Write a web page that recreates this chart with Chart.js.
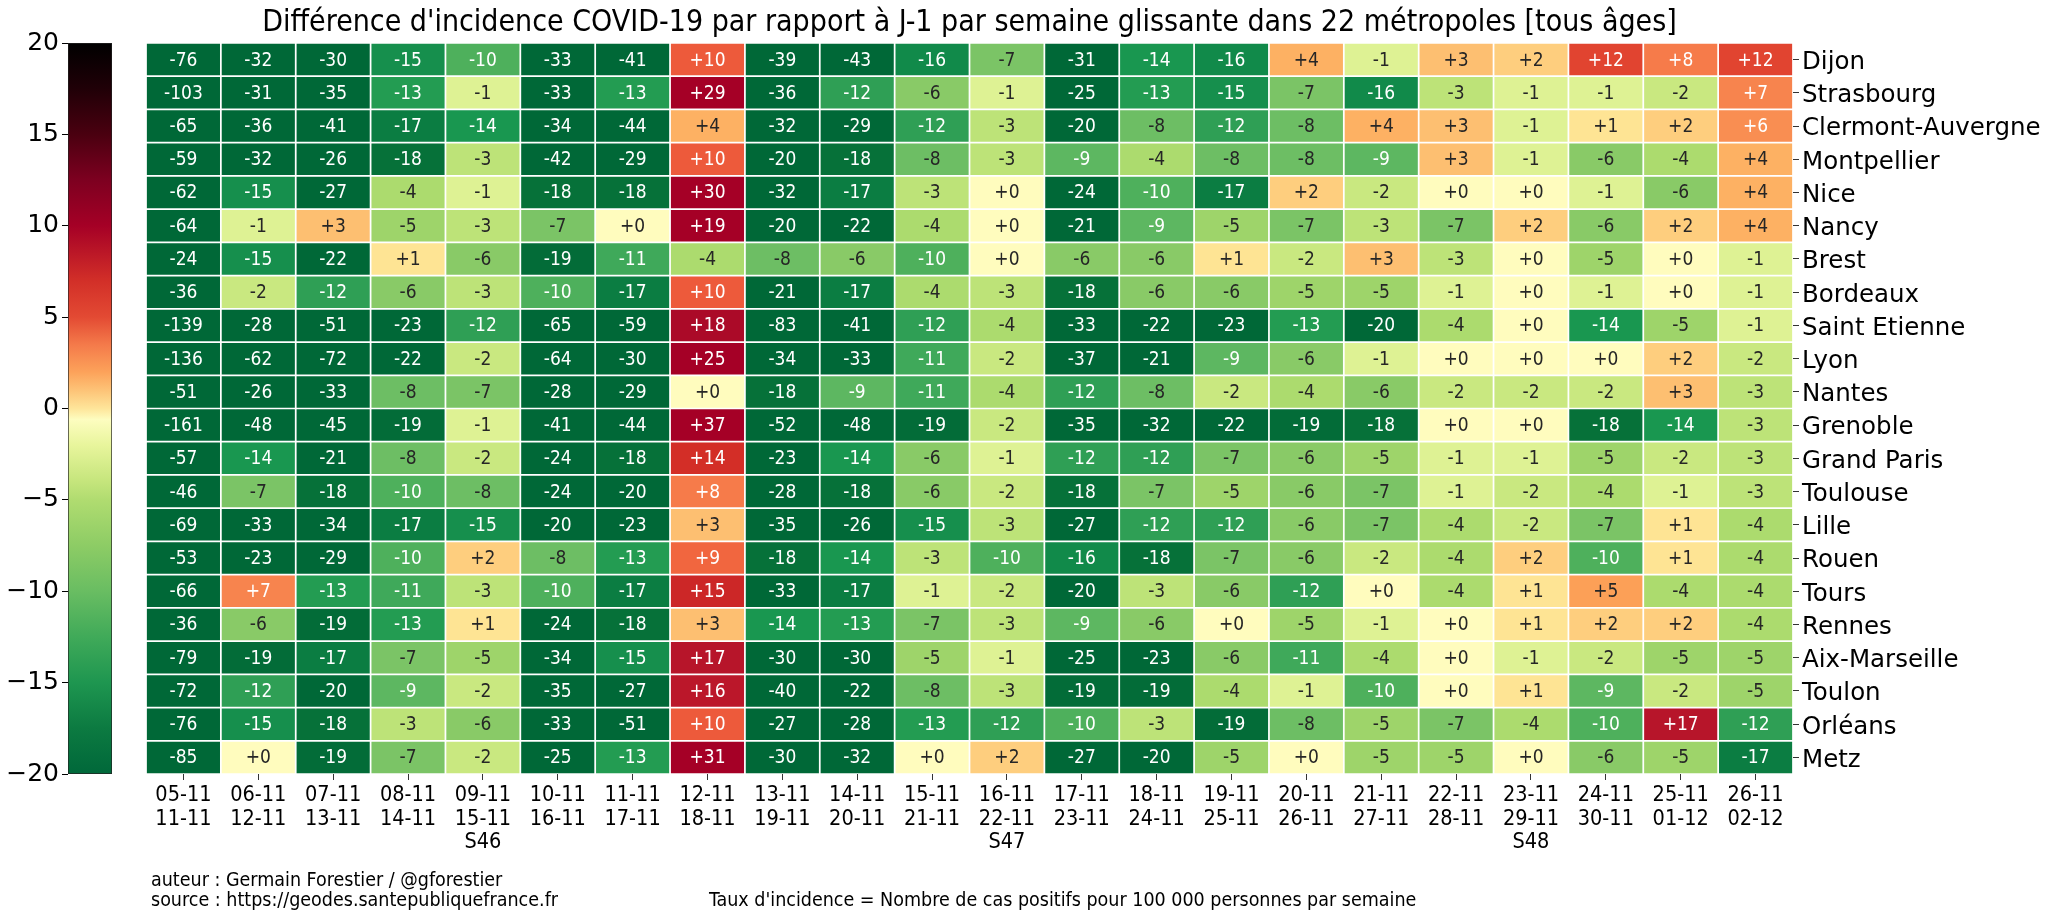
<!DOCTYPE html>
<html>
<head>
<meta charset="utf-8">
<script src="https://cdn.jsdelivr.net/npm/chart.js@4.4.1/dist/chart.umd.min.js"></script>
<style>
  body { margin: 0; background: #fff; }
  #wrap { position: relative; width: 2048px; height: 920px; }
  canvas { position: absolute; left: 0; top: 0; }
</style>
</head>
<body>
<div id="wrap">
  <canvas id="heat" width="2048" height="920"></canvas>
  <canvas id="cbar" width="140" height="920"></canvas>
</div>
<script>
// semaines glissantes (debut / fin) et numero de semaine
const debut = ['05-11','06-11','07-11','08-11','09-11','10-11','11-11','12-11','13-11','14-11','15-11',
               '16-11','17-11','18-11','19-11','20-11','21-11','22-11','23-11','24-11','25-11','26-11'];
const fin = ['11-11','12-11','13-11','14-11','15-11','16-11','17-11','18-11','19-11','20-11','21-11',
             '22-11','23-11','24-11','25-11','26-11','27-11','28-11','29-11','30-11','01-12','02-12'];
const semaines = ['','','','','S46','','','','','','','S47','','','','','','','S48','','',''];

const villes = ['Dijon','Strasbourg','Clermont-Auvergne','Montpellier','Nice','Nancy','Brest','Bordeaux',
                'Saint Etienne','Lyon','Nantes','Grenoble','Grand Paris','Toulouse','Lille','Rouen','Tours',
                'Rennes','Aix-Marseille','Toulon','Orléans','Metz'];

// difference d'incidence par rapport a J-1
const dijon        = [-76,-32,-30,-15,-10,-33,-41,10,-39,-43,-16,-7,-31,-14,-16,4,-1,3,2,12,8,12];
const strasbourg   = [-103,-31,-35,-13,-1,-33,-13,29,-36,-12,-6,-1,-25,-13,-15,-7,-16,-3,-1,-1,-2,7];
const clermont     = [-65,-36,-41,-17,-14,-34,-44,4,-32,-29,-12,-3,-20,-8,-12,-8,4,3,-1,1,2,6];
const montpellier  = [-59,-32,-26,-18,-3,-42,-29,10,-20,-18,-8,-3,-9,-4,-8,-8,-9,3,-1,-6,-4,4];
const nice         = [-62,-15,-27,-4,-1,-18,-18,30,-32,-17,-3,0,-24,-10,-17,2,-2,0,0,-1,-6,4];
const nancy        = [-64,-1,3,-5,-3,-7,0,19,-20,-22,-4,0,-21,-9,-5,-7,-3,-7,2,-6,2,4];
const brest        = [-24,-15,-22,1,-6,-19,-11,-4,-8,-6,-10,0,-6,-6,1,-2,3,-3,0,-5,0,-1];
const bordeaux     = [-36,-2,-12,-6,-3,-10,-17,10,-21,-17,-4,-3,-18,-6,-6,-5,-5,-1,0,-1,0,-1];
const saintEtienne = [-139,-28,-51,-23,-12,-65,-59,18,-83,-41,-12,-4,-33,-22,-23,-13,-20,-4,0,-14,-5,-1];
const lyon         = [-136,-62,-72,-22,-2,-64,-30,25,-34,-33,-11,-2,-37,-21,-9,-6,-1,0,0,0,2,-2];
const nantes       = [-51,-26,-33,-8,-7,-28,-29,0,-18,-9,-11,-4,-12,-8,-2,-4,-6,-2,-2,-2,3,-3];
const grenoble     = [-161,-48,-45,-19,-1,-41,-44,37,-52,-48,-19,-2,-35,-32,-22,-19,-18,0,0,-18,-14,-3];
const grandParis   = [-57,-14,-21,-8,-2,-24,-18,14,-23,-14,-6,-1,-12,-12,-7,-6,-5,-1,-1,-5,-2,-3];
const toulouse     = [-46,-7,-18,-10,-8,-24,-20,8,-28,-18,-6,-2,-18,-7,-5,-6,-7,-1,-2,-4,-1,-3];
const lille        = [-69,-33,-34,-17,-15,-20,-23,3,-35,-26,-15,-3,-27,-12,-12,-6,-7,-4,-2,-7,1,-4];
const rouen        = [-53,-23,-29,-10,2,-8,-13,9,-18,-14,-3,-10,-16,-18,-7,-6,-2,-4,2,-10,1,-4];
const tours        = [-66,7,-13,-11,-3,-10,-17,15,-33,-17,-1,-2,-20,-3,-6,-12,0,-4,1,5,-4,-4];
const rennes       = [-36,-6,-19,-13,1,-24,-18,3,-14,-13,-7,-3,-9,-6,0,-5,-1,0,1,2,2,-4];
const aixMarseille = [-79,-19,-17,-7,-5,-34,-15,17,-30,-30,-5,-1,-25,-23,-6,-11,-4,0,-1,-2,-5,-5];
const toulon       = [-72,-12,-20,-9,-2,-35,-27,16,-40,-22,-8,-3,-19,-19,-4,-1,-10,0,1,-9,-2,-5];
const orleans      = [-76,-15,-18,-3,-6,-33,-51,10,-27,-28,-13,-12,-10,-3,-19,-8,-5,-7,-4,-10,17,-12];
const metz         = [-85,0,-19,-7,-2,-25,-13,31,-30,-32,0,2,-27,-20,-5,0,-5,-5,0,-6,-5,-17];

const lignes = [dijon, strasbourg, clermont, montpellier, nice, nancy, brest, bordeaux, saintEtienne,
                lyon, nantes, grenoble, grandParis, toulouse, lille, rouen, tours, rennes, aixMarseille,
                toulon, orleans, metz];

const cbTicks = [-20, -15, -10, -5, 0, 5, 10, 15, 20];

// couleurs des cases (valeur -> couleur)
const palette = [
  [-20,'#006837'],[-19,'#036c38'],[-18,'#067139'],[-17,'#0b7d42'],[-16,'#118a4a'],[-15,'#168f4d'],
  [-14,'#199750'],[-13,'#239c52'],[-12,'#2f9f55'],[-11,'#3fa95a'],[-10,'#4eb05c'],[-9,'#5db761'],
  [-8,'#6dbe64'],[-7,'#7bc466'],[-6,'#89ca67'],[-5,'#9ed46a'],[-4,'#acdb6e'],[-3,'#bde378'],
  [-2,'#c9e880'],[-1,'#def294'],[0,'#fffcbe'],[1,'#fee494'],[2,'#fece7e'],[3,'#fdbf71'],
  [4,'#fdb163'],[5,'#fca057'],[6,'#f98e52'],[7,'#f7844e'],[8,'#f67b4a'],[9,'#f1663f'],
  [10,'#ed5a3b'],[12,'#e14430'],[14,'#d32e27'],[15,'#cc2727'],[16,'#bb172a'],[17,'#b7152a'],
  [18,'#ab0a28'],[19,'#a50026']
];
// degrade de la barre de couleur
const cbPalette = [
  [-20,'#00683a'],[-17.5,'#0c7a41'],[-15,'#1e9650'],[-12.5,'#40aa59'],[-10,'#69bd62'],[-7.5,'#8dcc65'],
  [-5,'#b0dc70'],[-4,'#c5e57c'],[-2,'#e8f59c'],[-0.6,'#fdfdc0'],[0,'#fee59a'],[1,'#fdc377'],[2,'#fca25a'],
  [3.5,'#f47a4a'],[5,'#e34a33'],[7,'#d22f28'],[10,'#a50026'],[12.5,'#7d0020'],[15,'#4a0010'],
  [17.5,'#200007'],[20,'#000000']
];

const CONDENSE = "'DejaVu Sans Condensed', 'DejaVu Sans', sans-serif";
const NORMAL = "'DejaVu Sans', sans-serif";

function hex(c) {
  return [parseInt(c.slice(1,3),16), parseInt(c.slice(3,5),16), parseInt(c.slice(5,7),16)];
}
function couleur(v) {
  if (v <= palette[0][0]) return palette[0][1];
  const last = palette[palette.length - 1];
  if (v >= last[0]) return last[1];
  for (let k = 1; k < palette.length; k++) {
    if (v <= palette[k][0]) {
      const [v0, c0] = palette[k-1], [v1, c1] = palette[k];
      const t = (v - v0) / (v1 - v0);
      const a = hex(c0), b = hex(c1);
      return 'rgb(' + a.map((x, i) => Math.round(x + (b[i] - x) * t)).join(',') + ')';
    }
  }
}
function fmt(v) { return v >= 0 ? '+' + v : String(v); }

const etiquettes = {
  id: 'etiquettes',
  afterDatasetsDraw(chart) {
    const ctx = chart.ctx;
    ctx.save();
    ctx.font = '19px ' + CONDENSE;
    ctx.textAlign = 'center';
    ctx.textBaseline = 'middle';
    chart.data.datasets.forEach((ds, i) => {
      chart.getDatasetMeta(i).data.forEach((bar, j) => {
        const v = ds.valeurs[j];
        ctx.fillStyle = (v <= -9 || v >= 6) ? '#ffffff' : '#262626';
        ctx.fillText(fmt(v), bar.x, (bar.y + bar.base) / 2 + 1);
      });
    });
    ctx.restore();
  }
};

const piedDePage = {
  id: 'piedDePage',
  afterDraw(chart) {
    const ctx = chart.ctx;
    ctx.save();
    ctx.font = '19.5px ' + CONDENSE;
    ctx.fillStyle = '#000';
    ctx.textBaseline = 'middle';
    ctx.fillText('auteur : Germain Forestier / @gforestier', 151, 881);
    ctx.fillText('source : https://geodes.santepubliquefrance.fr', 151, 901);
    ctx.fillText("Taux d'incidence = Nombre de cas positifs pour 100 000 personnes par semaine", 709, 901);
    ctx.restore();
  }
};

new Chart(document.getElementById('heat').getContext('2d'), {
  type: 'bar',
  data: {
    labels: debut.map((d, i) => semaines[i] ? [d, fin[i], semaines[i]] : [d, fin[i]]),
    datasets: lignes.map((row, i) => ({
      label: villes[i],
      valeurs: row,
      data: row.map(() => [i, i + 1]),
      backgroundColor: row.map(couleur),
      borderColor: '#ffffff',
      borderWidth: 1.2,
      borderSkipped: false,
      barPercentage: 1,
      categoryPercentage: 1,
      grouped: false
    }))
  },
  options: {
    responsive: false,
    animation: false,
    layout: { padding: { left: 146, right: 0, top: 0, bottom: 0 } },
    plugins: {
      legend: { display: false },
      tooltip: { enabled: false },
      title: {
        display: true,
        fullSize: false,
        text: "Différence d'incidence COVID-19 par rapport à J-1 par semaine glissante dans 22 métropoles [tous âges]",
        color: '#000',
        font: { size: 30, family: CONDENSE, weight: 'normal' },
        padding: { top: 5, bottom: 2 }
      }
    },
    scales: {
      x: {
        afterFit: (scale) => { scale.height = 146; },
        grid: { offset: false, drawOnChartArea: false, tickLength: 6, color: '#333' },
        border: { display: false },
        ticks: {
          autoSkip: false, maxRotation: 0, padding: 4, color: '#000',
          font: { size: 21.5, family: CONDENSE, lineHeight: 1.09 }
        }
      },
      y: {
        type: 'linear',
        position: 'right',
        min: 0,
        max: villes.length,
        reverse: true,
        afterFit: (scale) => { scale.width = 255; },
        afterBuildTicks: (scale) => { scale.ticks = villes.map((v, i) => ({ value: i + 0.5 })); },
        grid: { drawOnChartArea: false, tickLength: 6, color: '#333' },
        border: { display: false },
        ticks: {
          padding: 3, color: '#000', labelOffset: 3,
          font: { size: 24.5, family: NORMAL },
          callback: (value) => villes[Math.floor(value)]
        }
      }
    }
  },
  plugins: [etiquettes, piedDePage]
});

new Chart(document.getElementById('cbar').getContext('2d'), {
  type: 'bar',
  data: {
    labels: [''],
    datasets: [{
      data: [[cbTicks[0], cbTicks[cbTicks.length - 1]]],
      backgroundColor: (context) => {
        const chart = context.chart;
        if (!chart.chartArea) return '#888';
        const y = chart.scales.y;
        const g = chart.ctx.createLinearGradient(0, y.getPixelForValue(-20), 0, y.getPixelForValue(20));
        cbPalette.forEach(([v, c]) => g.addColorStop((v + 20) / 40, c));
        return g;
      },
      borderColor: '#222',
      borderWidth: 1,
      borderSkipped: false,
      barPercentage: 1,
      categoryPercentage: 1
    }]
  },
  options: {
    responsive: false,
    animation: false,
    layout: { padding: { left: 0, right: 28, top: 43, bottom: 146 } },
    plugins: { legend: { display: false }, tooltip: { enabled: false } },
    scales: {
      x: { display: false },
      y: {
        position: 'left',
        min: -20,
        max: 20,
        afterFit: (scale) => { scale.width = 68; },
        afterBuildTicks: (scale) => { scale.ticks = cbTicks.map(v => ({ value: v })); },
        grid: { drawOnChartArea: false, tickLength: 6, color: '#000' },
        border: { display: false },
        ticks: {
          padding: 3, color: '#000',
          font: { size: 25, family: NORMAL },
          callback: (v) => v < 0 ? '\u2212' + Math.abs(v) : String(v)
        }
      }
    }
  }
});
</script>
</body>
</html>
